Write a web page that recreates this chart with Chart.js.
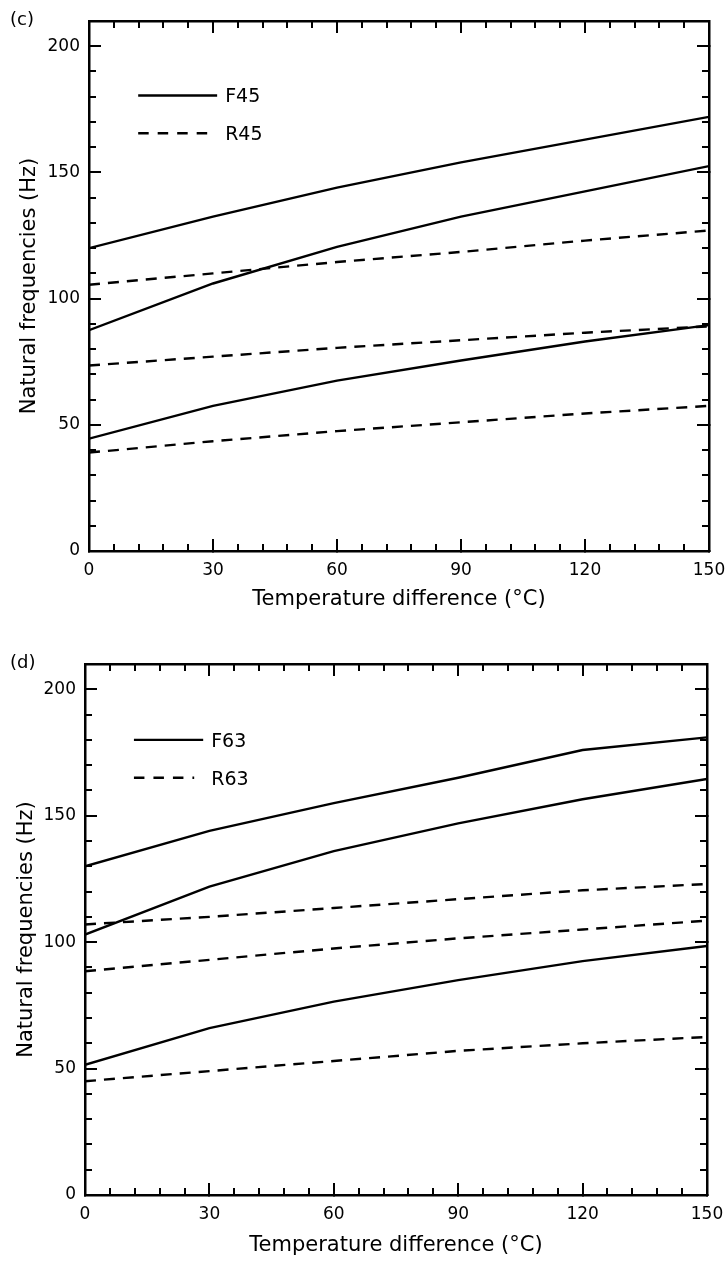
<!DOCTYPE html>
<html>
<head>
<meta charset="utf-8">
<script src="https://cdn.jsdelivr.net/npm/chart.js@4.4.0/dist/chart.umd.min.js"></script>
<style>
  html, body { margin: 0; padding: 0; background: #fff; }
  body { width: 728px; height: 1261px; position: relative; overflow: hidden; font-family: "DejaVu Sans", sans-serif; }
  .panel { position: absolute; left: 0; width: 728px; }
  .tag { position: absolute; left: 10px; font-size: 18px; line-height: 20px; color: #000; z-index: 2; }
</style>
</head>
<body>
<div class="panel" style="top:0;height:630px"><canvas id="chartC" width="728" height="630"></canvas></div>
<div class="panel" style="top:630px;height:631px"><canvas id="chartD" width="728" height="631"></canvas></div>
<div class="tag" style="top:9px">(c)</div>
<div class="tag" style="top:652px">(d)</div>
<script>
// temperature difference (°C) where every curve was computed
var temps = [0, 30, 60, 90, 120, 150];

// panel (c): F45 solid, R45 dashed (Hz)
var f45Low  = [44.5, 57.5, 67.5, 75.5, 83, 89.5];
var f45Mid  = [87.5, 106, 120.5, 132.5, 142.5, 152.5];
var f45High = [120, 132.5, 144, 154, 163, 172];
var r45Low  = [39, 43.5, 47.5, 51, 54.5, 57.5];
var r45Mid  = [73.5, 77, 80.5, 83.5, 86.5, 89];
var r45High = [105.5, 110, 114.5, 118.5, 123, 127];

// panel (d): F63 solid, R63 dashed (Hz)
var f63Low  = [51.5, 66, 76.5, 85, 92.5, 98.5];
var f63Mid  = [103, 122, 136, 147, 156.5, 164.5];
var f63High = [130, 144, 155, 165, 176, 181];
var r63Low  = [45, 49, 53, 57, 60, 62.5];
var r63Mid  = [88.5, 93, 97.5, 101.5, 105, 108.5];
var r63High = [107, 110, 113.5, 117, 120.5, 123];

// axis ticks
var xMajor = [0, 30, 60, 90, 120, 150];
var yMajor = [0, 50, 100, 150, 200];
var xMinorStep = 6;
var yMinorStep = 10;
var xMax = 150, yMax = 210;

var FONT = 'DejaVu Sans';
var dashPattern = [11, 8];

function steps(max, step) {
  var out = [];
  for (var v = 0; v <= max + 1e-9; v += step) out.push(v);
  return out;
}

function pts(vals) {
  return temps.map(function (t, i) { return { x: t, y: vals[i] }; });
}

function curve(label, vals, dashed) {
  return {
    label: label,
    data: pts(vals),
    borderColor: '#000',
    borderWidth: 2.4,
    borderDash: dashed ? dashPattern : [],
    pointRadius: 0,
    tension: 0,
    fill: false
  };
}

// draws the little legend inside the plot, placed in data units
var insideLegend = {
  id: 'insideLegend',
  afterDraw: function (chart, args, opts) {
    var ctx = chart.ctx, xs = chart.scales.x, ys = chart.scales.y;
    ctx.save();
    ctx.strokeStyle = '#000';
    ctx.fillStyle = '#000';
    ctx.lineWidth = 2.4;
    ctx.font = '19px "' + FONT + '"';
    ctx.textBaseline = 'middle';
    var x0 = xs.getPixelForValue(opts.from);
    var x1 = xs.getPixelForValue(opts.to);
    opts.items.forEach(function (it) {
      var y = ys.getPixelForValue(it.at);
      ctx.setLineDash(it.dash);
      ctx.beginPath();
      ctx.moveTo(x0, y);
      ctx.lineTo(it.dash.length ? x1 - 9 : x1, y);
      ctx.stroke();
      ctx.setLineDash([]);
      ctx.fillText(it.label, x1 + opts.gap, y + 2);
    });
    ctx.restore();
  }
};

function buildScales(L) {
  function fix(size) {
    return function (s) {
      if (s.isHorizontal()) s.height = size; else s.width = size;
      s.paddingLeft = s.paddingRight = s.paddingTop = s.paddingBottom = 0;
    };
  }
  function useTicks(list) {
    return function (s) { s.ticks = list.map(function (v) { return { value: v }; }); };
  }
  function frameAxis(pos, max, list, len, weight, border) {
    return {
      type: 'linear', position: pos, min: 0, max: max, bounds: 'data', weight: weight,
      afterBuildTicks: useTicks(list), afterFit: fix(0),
      ticks: { display: false },
      grid: { drawOnChartArea: false, color: '#000', lineWidth: 2, tickLength: -len },
      border: { display: border, color: '#000', width: 2.5 }
    };
  }
  var xMinor = steps(xMax, xMinorStep), yMinor = steps(yMax, yMinorStep);
  return {
    x: {
      type: 'linear', position: 'bottom', min: 0, max: xMax, bounds: 'data', weight: 10,
      afterBuildTicks: useTicks(xMajor), afterFit: fix(L.xH),
      ticks: { padding: 21, color: '#000', font: { family: FONT, size: 17 }, autoSkip: false, maxRotation: 0 },
      grid: { drawOnChartArea: false, color: '#000', lineWidth: 2, tickLength: -12 },
      border: { display: true, color: '#000', width: 2.5 },
      title: { display: true, text: 'Temperature difference (°C)', color: '#000',
               font: { family: FONT, size: 21 }, padding: { top: 0, bottom: L.xTitlePad } }
    },
    y: {
      type: 'linear', position: 'left', min: 0, max: yMax, bounds: 'data', weight: 10,
      afterBuildTicks: useTicks(yMajor), afterFit: fix(L.yW),
      ticks: { padding: 21, color: '#000', font: { family: FONT, size: 17 }, autoSkip: false },
      grid: { drawOnChartArea: false, color: '#000', lineWidth: 2, tickLength: -12 },
      border: { display: true, color: '#000', width: 2.5 },
      title: { display: true, text: 'Natural frequencies (Hz)', color: '#000',
               font: { family: FONT, size: 21 }, padding: { top: L.yTitlePad, bottom: 0 } }
    },
    xMinorB: frameAxis('bottom', xMax, xMinor, 7, 0, false),
    xTop: frameAxis('top', xMax, xMajor, 12, 10, true),
    xMinorT: frameAxis('top', xMax, xMinor, 7, 0, false),
    yMinorL: frameAxis('left', yMax, yMinor, 7, 0, false),
    yRight: frameAxis('right', yMax, yMajor, 12, 10, true),
    yMinorR: frameAxis('right', yMax, yMinor, 7, 0, false)
  };
}

function makeChart(id, sets, L, legend) {
  new Chart(document.getElementById(id), {
    type: 'line',
    data: { datasets: sets },
    options: {
      responsive: false,
      animation: false,
      devicePixelRatio: 1,
      layout: { padding: L.pad },
      plugins: { legend: { display: false }, tooltip: { enabled: false }, insideLegend: legend },
      scales: buildScales(L)
    },
    plugins: [insideLegend]
  });
}

makeChart('chartC', [
  curve('F45', f45High), curve('F45', f45Mid), curve('F45', f45Low),
  curve('R45', r45High, true), curve('R45', r45Mid, true), curve('R45', r45Low, true)
], { pad: { top: 21, right: 19, bottom: 0, left: 0 }, xH: 79, yW: 89, xTitlePad: 18, yTitlePad: 17 },
{ from: 11.9, to: 31, gap: 8, items: [
  { label: 'F45', at: 180.5, dash: [] },
  { label: 'R45', at: 165.5, dash: [10.5, 9] }
] });

makeChart('chartD', [
  curve('F63', f63High), curve('F63', f63Mid), curve('F63', f63Low),
  curve('R63', r63High, true), curve('R63', r63Mid, true), curve('R63', r63Low, true)
], { pad: { top: 34, right: 21, bottom: 0, left: 0 }, xH: 66, yW: 85, xTitlePad: 3, yTitlePad: 14 },
{ from: 11.8, to: 28.5, gap: 8, items: [
  { label: 'F63', at: 180, dash: [] },
  { label: 'R63', at: 165, dash: [10.5, 9] }
] });
</script>
</body>
</html>
